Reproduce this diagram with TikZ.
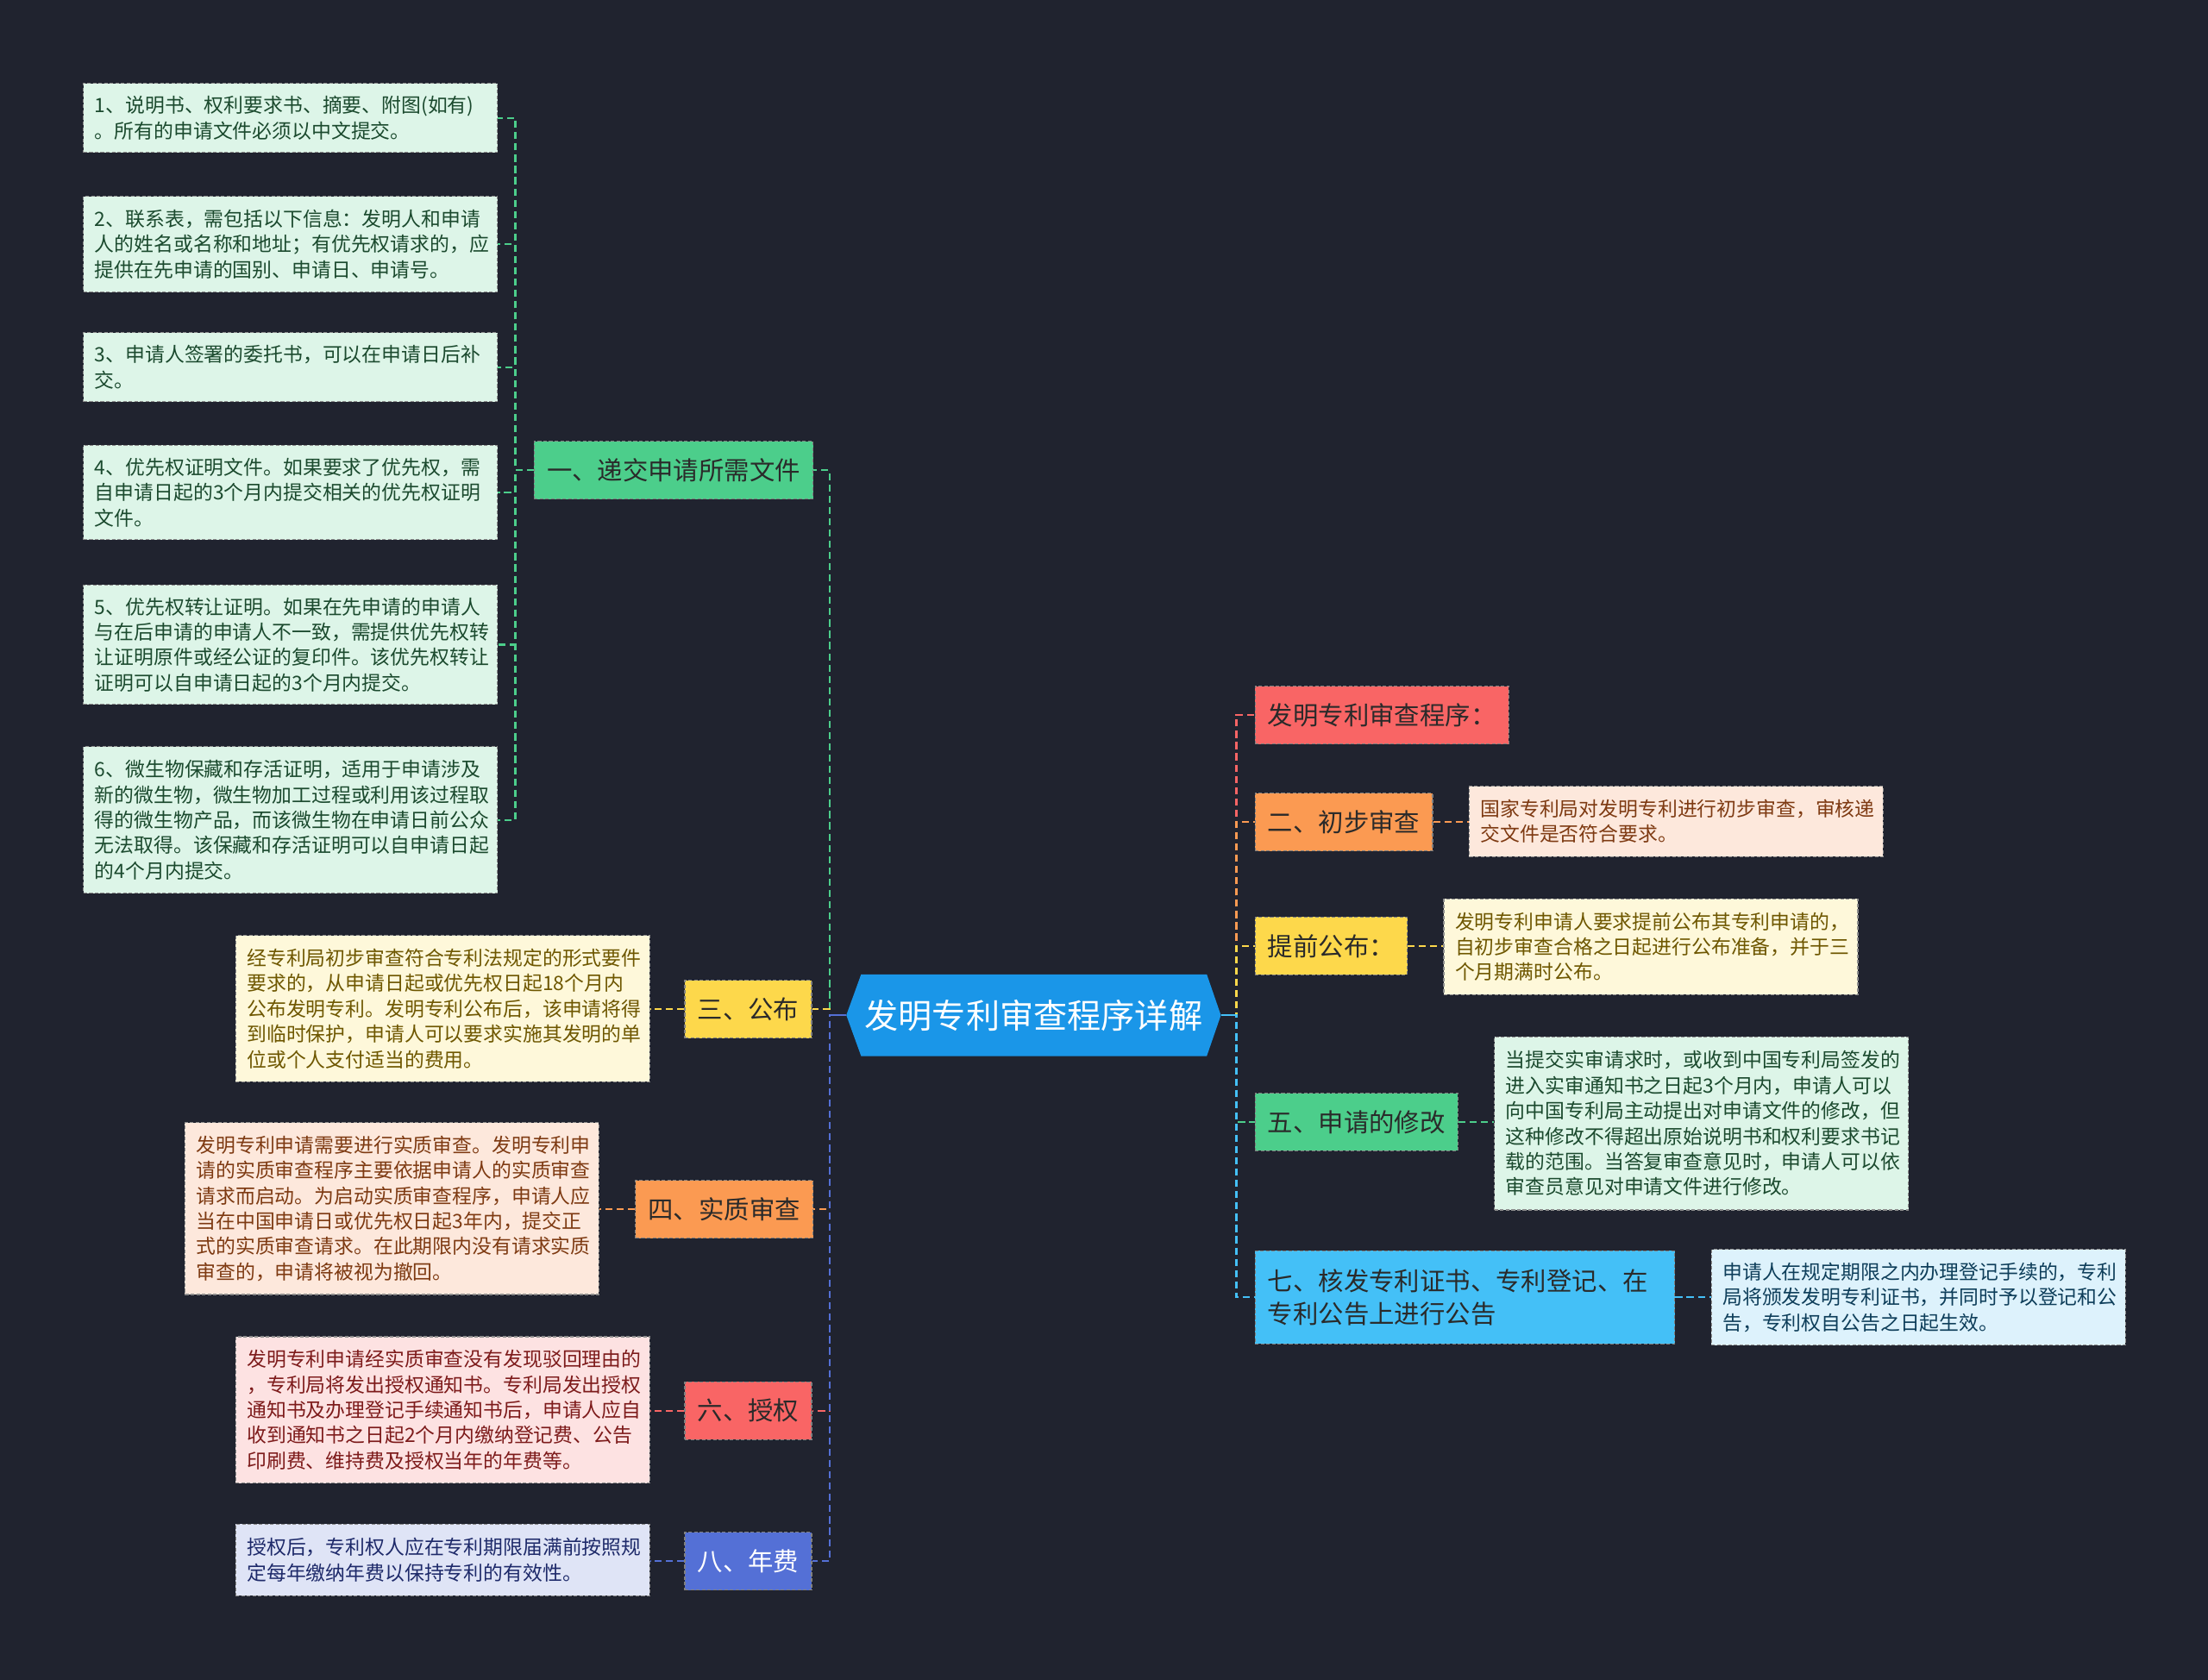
\documentclass[tikz,border=0pt]{standalone}
\usepackage{fontspec}
\setmainfont{Noto Sans CJK SC}
\definecolor{bg}{HTML}{20232F}
\definecolor{rootblue}{HTML}{1A96E8}
\definecolor{cgreen}{HTML}{4CCE8B}
\definecolor{cyellow}{HTML}{FDD84B}
\definecolor{corange}{HTML}{FB9A52}
\definecolor{cred}{HTML}{F96565}
\definecolor{cpurple}{HTML}{5470D6}
\definecolor{csky}{HTML}{44C0F7}
\definecolor{lgreen}{HTML}{DDF5E8}
\definecolor{tgreen}{HTML}{1B4A2E}
\definecolor{lyellow}{HTML}{FEF8DA}
\definecolor{tyellow}{HTML}{6E5700}
\definecolor{lpeach}{HTML}{FDE8DC}
\definecolor{tpeach}{HTML}{7E3A12}
\definecolor{lpink}{HTML}{FDE2E2}
\definecolor{tpink}{HTML}{7D1B1B}
\definecolor{llav}{HTML}{DFE4F6}
\definecolor{tlav}{HTML}{1E2A6A}
\definecolor{lsky}{HTML}{DDF2FC}
\definecolor{tsky}{HTML}{0E3E5A}
\definecolor{tdark}{HTML}{2A2A2A}
\tikzset{
  leafbox/.style 2 args={anchor=north west, fill=#1, text=#2, draw=black!45,
    line width=0.7pt, dash pattern=on 2.5pt off 1.5pt,
    minimum width=294pt, text width=278pt, inner xsep=8pt, inner ysep=0pt,
    align=left, font=\fontsize{14}{18}\selectfont},
  branchbox/.style 2 args={anchor=north west, fill=#1, text=#2, draw=black!50,
    line width=0.7pt, dash pattern=on 2.5pt off 1.5pt,
    inner xsep=9pt, inner ysep=0pt, minimum height=41pt,
    font=\fontsize{18}{24}\selectfont},
  conn/.style={draw=#1, line width=1.3pt, dash pattern=on 5pt off 3pt},
  solidconn/.style={draw=#1, line width=1.3pt}
}
\begin{document}
\begin{tikzpicture}[x=1pt,y=-1pt]
\useasboundingbox[fill=bg] (0,0) rectangle (1568,1193);

% root
\coordinate (rootL) at (601,721);
\coordinate (rootR) at (867,721);
\fill[rootblue] (rootL) -- (611.5,692) -- (857,692) -- (rootR) -- (857,750) -- (611.5,750) -- cycle;
\node[text=white, font=\fontsize{24}{28}\selectfont, inner sep=0pt] (root) at (734,721) {发明专利审查程序详解};

% left branches
\node[branchbox={cgreen}{tdark}] (b1) at (379,313) {一、递交申请所需文件};
\node[branchbox={cyellow}{tdark}] (b3) at (486,696) {三、公布};
\node[branchbox={corange}{tdark}] (b4) at (451,838) {四、实质审查};
\node[branchbox={cred}{tdark}] (b6) at (486,981) {六、授权};
\node[branchbox={cpurple}{white}] (b8) at (486,1088) {八、年费};

% right branches
\node[branchbox={cred}{tdark}] (r0) at (891,487) {发明专利审查程序：};
\node[branchbox={corange}{tdark}] (r2) at (891,563) {二、初步审查};
\node[branchbox={cyellow}{tdark}] (rt) at (891,651) {提前公布：};
\node[branchbox={cgreen}{tdark}] (r5) at (891,776) {五、申请的修改};
\node[branchbox={csky}{tdark}, minimum width=298pt, minimum height=66pt, text width=280pt, align=left, font=\fontsize{18}{23.5}\selectfont] (r7) at (891,888) {七、核发专利证书、专利登记、在\\专利公告上进行公告};

% leaves of 一
\node[leafbox={lgreen}{tgreen}, minimum height=49pt] (L1) at (59,59) {1、说明书、权利要求书、摘要、附图(如有)\\。所有的申请文件必须以中文提交。};
\node[leafbox={lgreen}{tgreen}, minimum height=68pt] (L2) at (59,139) {2、联系表，需包括以下信息：发明人和申请\\人的姓名或名称和地址；有优先权请求的，应\\提供在先申请的国别、申请日、申请号。};
\node[leafbox={lgreen}{tgreen}, minimum height=49pt] (L3) at (59,236) {3、申请人签署的委托书，可以在申请日后补\\交。};
\node[leafbox={lgreen}{tgreen}, minimum height=67pt] (L4) at (59,316) {4、优先权证明文件。如果要求了优先权，需\\自申请日起的3个月内提交相关的优先权证明\\文件。};
\node[leafbox={lgreen}{tgreen}, minimum height=85pt] (L5) at (59,415) {5、优先权转让证明。如果在先申请的申请人\\与在后申请的申请人不一致，需提供优先权转\\让证明原件或经公证的复印件。该优先权转让\\证明可以自申请日起的3个月内提交。};
\node[leafbox={lgreen}{tgreen}, minimum height=104pt] (L6) at (59,530) {6、微生物保藏和存活证明，适用于申请涉及\\新的微生物，微生物加工过程或利用该过程取\\得的微生物产品，而该微生物在申请日前公众\\无法取得。该保藏和存活证明可以自申请日起\\的4个月内提交。};

% other left leaves
\node[leafbox={lyellow}{tyellow}, minimum height=104pt] (L3b) at (167,664) {经专利局初步审查符合专利法规定的形式要件\\要求的，从申请日起或优先权日起18个月内\\公布发明专利。发明专利公布后，该申请将得\\到临时保护，申请人可以要求实施其发明的单\\位或个人支付适当的费用。};
\node[leafbox={lpeach}{tpeach}, minimum height=122pt] (L4b) at (131,797) {发明专利申请需要进行实质审查。发明专利申\\请的实质审查程序主要依据申请人的实质审查\\请求而启动。为启动实质审查程序，申请人应\\当在中国申请日或优先权日起3年内，提交正\\式的实质审查请求。在此期限内没有请求实质\\审查的，申请将被视为撤回。};
\node[leafbox={lpink}{tpink}, minimum height=104pt] (L6b) at (167,949) {发明专利申请经实质审查没有发现驳回理由的\\，专利局将发出授权通知书。专利局发出授权\\通知书及办理登记手续通知书后，申请人应自\\收到通知书之日起2个月内缴纳登记费、公告\\印刷费、维持费及授权当年的年费等。};
\node[leafbox={llav}{tlav}, minimum height=51pt] (L8b) at (167,1082) {授权后，专利权人应在专利期限届满前按照规\\定每年缴纳年费以保持专利的有效性。};

% right leaves
\node[leafbox={lpeach}{tpeach}, minimum height=50pt] (R2b) at (1043,558) {国家专利局对发明专利进行初步审查，审核递\\交文件是否符合要求。};
\node[leafbox={lyellow}{tyellow}, minimum height=68pt] (Rtb) at (1025,638) {发明专利申请人要求提前公布其专利申请的，\\自初步审查合格之日起进行公布准备，并于三\\个月期满时公布。};
\node[leafbox={lgreen}{tgreen}, minimum height=123pt] (R5b) at (1061,736) {当提交实审请求时，或收到中国专利局签发的\\进入实审通知书之日起3个月内，申请人可以\\向中国专利局主动提出对申请文件的修改，但\\这种修改不得超出原始说明书和权利要求书记\\载的范围。当答复审查意见时，申请人可以依\\审查员意见对申请文件进行修改。};
\node[leafbox={lsky}{tsky}, minimum height=68pt] (R7b) at (1215,887) {申请人在规定期限之内办理登记手续的，专利\\局将颁发发明专利证书，并同时予以登记和公\\告，专利权自公告之日起生效。};

% connectors root -> left branches (top to bottom order)
\draw[conn=cgreen] (rootL) -- ++(-12,0) |- (b1.east);
\draw[conn=cyellow] (rootL) -- ++(-12,0) |- (b3.east);
\draw[conn=corange] (rootL) -- ++(-12,0) |- (b4.east);
\draw[conn=cred] (rootL) -- ++(-12,0) |- (b6.east);
\draw[conn=cpurple] (rootL) -- ++(-12,0) |- (b8.east);
\draw[solidconn=cpurple] (rootL) -- ++(-12,0);

% connectors root -> right branches
\draw[conn=cred] (rootR) -- ++(11,0) |- (r0.west);
\draw[conn=corange] (rootR) -- ++(11,0) |- (r2.west);
\draw[conn=cyellow] (rootR) -- ++(11,0) |- (rt.west);
\draw[conn=cgreen] (rootR) -- ++(11,0) |- (r5.west);
\draw[conn=csky] (rootR) -- ++(11,0) |- (r7.west);
\draw[solidconn=csky] (rootR) -- ++(11,0);

% 一 -> leaves
\foreach \l in {L1,L2,L3,L4,L5,L6}
  \draw[conn=cgreen] (b1.west) -- ++(-13,0) |- (\l.east);

% branch -> leaf
\draw[conn=cyellow] (b3.west) -- (L3b.east |- b3.west);
\draw[conn=corange] (b4.west) -- (L4b.east |- b4.west);
\draw[conn=cred] (b6.west) -- (L6b.east |- b6.west);
\draw[conn=cpurple] (b8.west) -- (L8b.east |- b8.west);
\draw[conn=corange] (r2.east) -- (R2b.west |- r2.east);
\draw[conn=cyellow] (rt.east) -- (Rtb.west |- rt.east);
\draw[conn=cgreen] (r5.east) -- (R5b.west |- r5.east);
\draw[conn=csky] (r7.east) -- (R7b.west |- r7.east);
\end{tikzpicture}
\end{document}
